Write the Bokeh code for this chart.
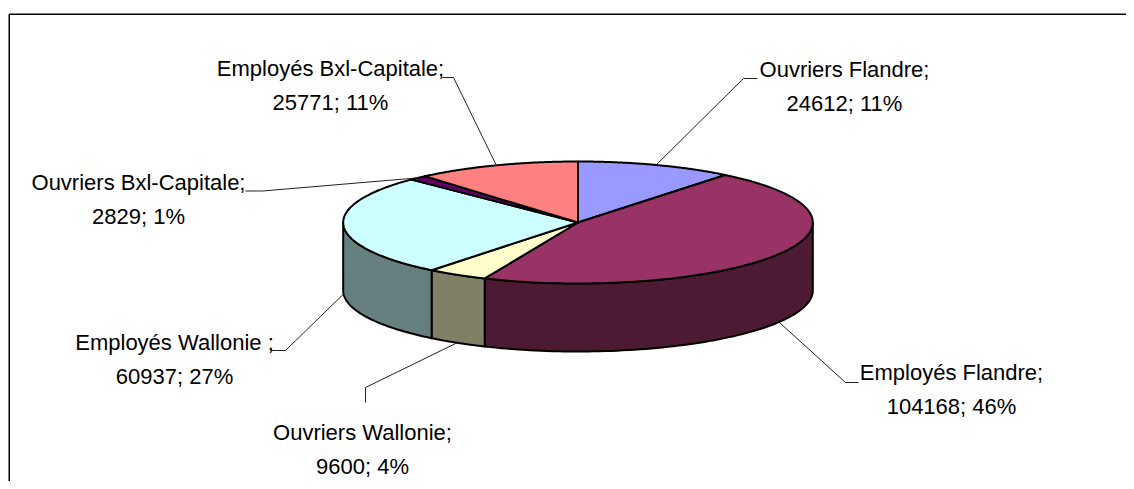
import numpy as np
from bokeh.plotting import figure
from bokeh.models import Range1d
from bokeh.core.properties import value
from bokeh.embed import file_html
from bokeh.resources import INLINE

# ---- data ----
categories = ["Ouvriers Flandre", "Employés Flandre", "Ouvriers Wallonie",
              "Employés Wallonie ", "Ouvriers Bxl-Capitale", "Employés Bxl-Capitale"]
values = [24612, 104168, 9600, 60937, 2829, 25771]
top_colors = ["#9999FF", "#993366", "#FFFFCC", "#CCFFFF", "#660066", "#FF8080"]
side_colors = ["#4D4D80", "#4D1A33", "#808066", "#668080", "#330033", "#804040"]

# ---- layout (pixel space of the picture) ----
CX, CY, RX, RY, DEPTH = 577.5, 222.0, 234.8, 61.0, 68.0
label_x = [844, 951, 362, 174, 138, 330]
label_base = [68.5, 371.5, 431.5, 341.5, 181.5, 67.5]
LINE_GAP = 34.5
elbows = [[(743, 78), (757, 78)], [(845, 382), (858, 382)], [(365, 387), (365, 402)],
          [(285, 350), (270, 350)], [(262, 190.5), (245, 190.5)], [(453, 77), (442, 77)]]
FONT = value("Liberation Sans")
FSIZE = "22px"

p = figure(width=1126, height=481, x_range=Range1d(0, 1126), y_range=Range1d(481, 0),
           output_backend="svg", toolbar_location=None, min_border=0,
           x_axis_type=None, y_axis_type=None, outline_line_color=None,
           background_fill_color="white", border_fill_color="white")
p.grid.visible = False

# frame
p.line([8.75, 8.75, 1126], [481, 13.75, 13.75], line_color="black", line_width=1.5)

total = float(sum(values))
angles = []
cum = 0.0
for v in values:
    a0 = 90.0 - cum / total * 360.0
    a1 = a0 - v / total * 360.0
    angles.append((a0, a1))
    cum += v


def ell(t_deg, dy=0.0):
    t = np.radians(t_deg)
    return CX + RX * np.cos(t), CY - RY * np.sin(t) + dy


# sides (front half only)
for i, (a0, a1) in enumerate(angles):
    lo, hi = a1, a0
    for k in (-1, 0, 1):
        s_lo = max(lo, -180 + 360 * k)
        s_hi = min(hi, 360 * k)
        if s_lo < s_hi:
            ts = np.linspace(s_lo, s_hi, 80)
            xt, yt = ell(ts)
            xb, yb = ell(ts[::-1], DEPTH)
            p.patch(list(xt) + list(xb), list(yt) + list(yb),
                    fill_color=side_colors[i], line_color="black", line_width=2,
                    line_join="round")

# top faces
for i, (a0, a1) in enumerate(angles):
    ts = np.linspace(a0, a1, 120)
    xa, ya = ell(ts)
    p.patch([CX] + list(xa), [CY] + list(ya), fill_color=top_colors[i],
            line_color="black", line_width=2, line_join="round")

# leader lines and labels
for i, (a0, a1) in enumerate(angles):
    mid = (a0 + a1) / 2.0
    sx, sy = ell(mid)
    if np.sin(np.radians(mid)) < 0:
        sy += DEPTH
    xs = [sx] + [e[0] for e in elbows[i]]
    ys = [sy] + [e[1] for e in elbows[i]]
    p.line(xs, ys, line_color="#222222", line_width=1)

line1 = [c + ";" for c in categories]
line2 = [f"{v}; {round(100 * v / total)}%" for v in values]
p.text(x=label_x, y=label_base, text=line1, text_font=FONT, text_font_size=FSIZE,
       text_align="center", text_baseline="alphabetic", text_color="black")
p.text(x=label_x, y=[b + LINE_GAP for b in label_base], text=line2, text_font=FONT,
       text_font_size=FSIZE, text_align="center", text_baseline="alphabetic",
       text_color="black")

open("out.html", "w").write(file_html(p, INLINE))
